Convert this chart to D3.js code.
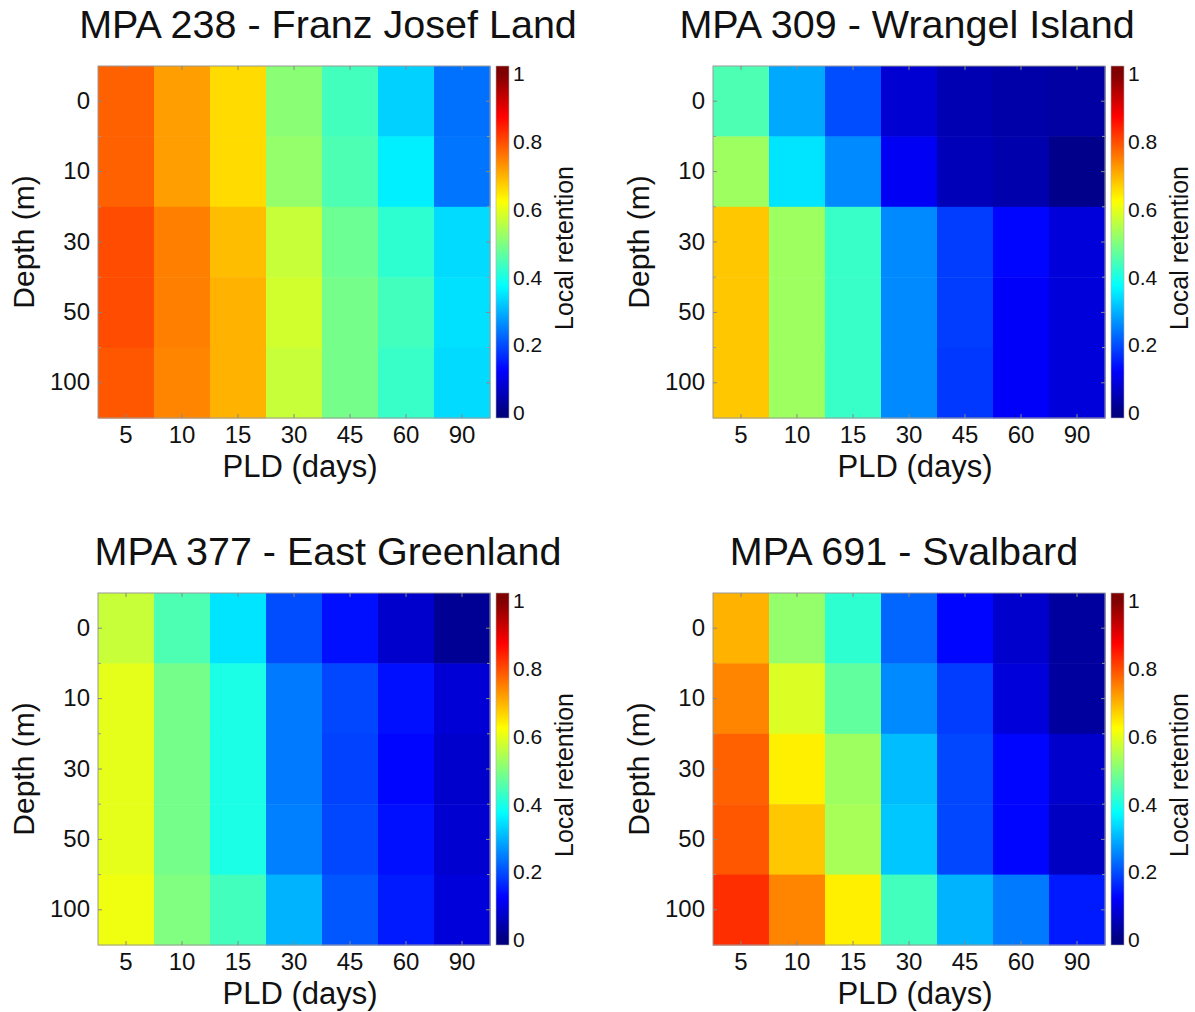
<!DOCTYPE html>
<html>
<head>
<meta charset="utf-8">
<script src="https://cdn.jsdelivr.net/npm/d3@7"></script>
<style>
  body { margin: 0; background: #fff; }
  text { font-family: "Liberation Sans", Arial, Helvetica, sans-serif; fill: #111; }
</style>
</head>
<body>
<div id="chart"></div>
<script>
// --- Data ---
const pld = ["5", "10", "15", "30", "45", "60", "90"];
const depth = ["0", "10", "30", "50", "100"];
const cbTicks = [0, 0.2, 0.4, 0.6, 0.8, 1];

const titles = [
  "MPA 238 - Franz Josef Land",
  "MPA 309 - Wrangel Island",
  "MPA 377 - East Greenland",
  "MPA 691 - Svalbard"
];

// local retention, rows = depth, cols = PLD
const franzJosef = [
  [0.78, 0.72, 0.66, 0.51, 0.44, 0.33, 0.235],
  [0.78, 0.72, 0.66, 0.52, 0.45, 0.36, 0.24],
  [0.80, 0.75, 0.69, 0.57, 0.48, 0.42, 0.34],
  [0.80, 0.75, 0.70, 0.58, 0.49, 0.44, 0.345],
  [0.79, 0.745, 0.70, 0.57, 0.49, 0.43, 0.34]
];
const wrangel = [
  [0.45, 0.29, 0.20, 0.082, 0.05, 0.04, 0.035],
  [0.53, 0.35, 0.26, 0.115, 0.055, 0.045, 0.01],
  [0.68, 0.53, 0.43, 0.26, 0.185, 0.13, 0.09],
  [0.68, 0.53, 0.43, 0.26, 0.185, 0.12, 0.09],
  [0.68, 0.53, 0.43, 0.26, 0.18, 0.12, 0.09]
];
const eastGreenland = [
  [0.57, 0.45, 0.35, 0.20, 0.14, 0.075, 0.02],
  [0.60, 0.49, 0.40, 0.245, 0.195, 0.14, 0.085],
  [0.60, 0.49, 0.40, 0.245, 0.19, 0.13, 0.075],
  [0.60, 0.49, 0.40, 0.25, 0.195, 0.14, 0.08],
  [0.61, 0.50, 0.44, 0.30, 0.21, 0.15, 0.09]
];
const svalbard = [
  [0.70, 0.52, 0.42, 0.225, 0.13, 0.075, 0.03],
  [0.745, 0.59, 0.47, 0.26, 0.185, 0.09, 0.03],
  [0.78, 0.64, 0.53, 0.31, 0.195, 0.13, 0.075],
  [0.79, 0.68, 0.54, 0.32, 0.195, 0.13, 0.065],
  [0.83, 0.745, 0.64, 0.44, 0.30, 0.245, 0.15]
];

const panelData = [franzJosef, wrangel, eastGreenland, svalbard];

// --- Layout ---
const W = 1195, H = 1012;
const plotW = 392, plotH = 352;
const layout = [
  { x0: 98,  y0: 66,  titleX: 328 },
  { x0: 713, y0: 66,  titleX: 907 },
  { x0: 98,  y0: 593, titleX: 328 },
  { x0: 713, y0: 593, titleX: 904 }
];

// MATLAB jet colormap
function jet(v) {
  const t = Math.max(0, Math.min(1, v));
  const c = x => Math.max(0, Math.min(1, x)) * 255;
  return d3.rgb(c(1.5 - Math.abs(4 * t - 3)), c(1.5 - Math.abs(4 * t - 2)), c(1.5 - Math.abs(4 * t - 1)));
}

const svg = d3.select("#chart").append("svg")
  .attr("width", W)
  .attr("height", H)
  .style("background", "#fff");

const x = d3.scaleBand().domain(pld).range([0, plotW]);
const y = d3.scaleBand().domain(depth).range([0, plotH]);
// colorbar scale: labels sit a bit inside the bar ends
const cb = d3.scaleLinear().domain([0, 1]).range([347, 8]);

const defs = svg.append("defs");
const grad = defs.append("linearGradient")
  .attr("id", "jetGrad")
  .attr("x1", 0).attr("x2", 0).attr("y1", 0).attr("y2", 1);
d3.range(0, 1.0001, 0.01).forEach(f => {
  grad.append("stop")
    .attr("offset", f)
    .attr("stop-color", jet(cb.invert(f * plotH)));
});

function styleAxis(g, size) {
  g.select(".domain").remove();
  g.selectAll(".tick line").attr("stroke", "#888").attr("stroke-width", 1);
  g.selectAll("text")
    .style("font-family", "'Liberation Sans', Arial, sans-serif")
    .attr("font-size", size)
    .attr("fill", "#111");
}

layout.forEach((p, i) => {
  const values = panelData[i];
  const g = svg.append("g").attr("transform", `translate(${p.x0},${p.y0})`);

  // cells
  values.forEach((row, r) => {
    g.selectAll(null)
      .data(row)
      .enter().append("rect")
      .attr("x", (d, c) => x(pld[c]))
      .attr("y", y(depth[r]))
      .attr("width", x.bandwidth() + 0.5)
      .attr("height", y.bandwidth() + 0.5)
      .attr("fill", d => jet(d));
  });

  // box
  g.append("rect")
    .attr("width", plotW).attr("height", plotH)
    .attr("fill", "none").attr("stroke", "#9a9a9a").attr("stroke-width", 1);

  // axes (ticks point inward)
  g.append("g")
    .attr("transform", `translate(0,${plotH})`)
    .call(d3.axisBottom(x).tickSizeInner(-4).tickSizeOuter(0).tickPadding(8))
    .call(a => styleAxis(a, 24));
  g.append("g")
    .call(d3.axisTop(x).tickSizeInner(-4).tickSizeOuter(0).tickFormat(""))
    .call(a => styleAxis(a, 24));
  g.append("g")
    .call(d3.axisLeft(y).tickSizeInner(-4).tickSizeOuter(0).tickPadding(8))
    .call(a => styleAxis(a, 24));
  g.append("g")
    .attr("transform", `translate(${plotW},0)`)
    .call(d3.axisRight(y).tickSizeInner(-4).tickSizeOuter(0).tickFormat(""))
    .call(a => styleAxis(a, 24));

  // minor ticks at row boundaries
  const bounds = depth.slice(1).map(d => y(d));
  g.selectAll(null).data(bounds).enter().append("line")
    .attr("x1", 0).attr("x2", 3).attr("y1", d => d).attr("y2", d => d)
    .attr("stroke", "#999");
  g.selectAll(null).data(bounds).enter().append("line")
    .attr("x1", plotW - 3).attr("x2", plotW).attr("y1", d => d).attr("y2", d => d)
    .attr("stroke", "#999");

  // axis labels
  g.append("text")
    .attr("x", plotW / 2 + 6)
    .attr("y", plotH + 59)
    .attr("text-anchor", "middle")
    .attr("font-size", 31)
    .text("PLD (days)");
  g.append("text")
    .attr("transform", `translate(-64,${plotH / 2}) rotate(-90)`)
    .attr("text-anchor", "middle")
    .attr("font-size", 30)
    .text("Depth (m)");

  // title
  svg.append("text")
    .attr("x", p.titleX)
    .attr("y", p.y0 - 28)
    .attr("text-anchor", "middle")
    .attr("font-size", 39.5)
    .text(titles[i]);

  // colorbar
  const cbg = g.append("g").attr("transform", `translate(${plotW + 6},0)`);
  cbg.append("rect")
    .attr("width", 13).attr("height", plotH)
    .attr("fill", "url(#jetGrad)")
    .attr("stroke", "#aaa").attr("stroke-width", 0.6);
  cbg.append("g")
    .attr("transform", "translate(13,0)")
    .call(d3.axisRight(cb).tickValues(cbTicks).tickSize(0).tickPadding(4).tickFormat(d => String(d)))
    .call(a => styleAxis(a, 21));
  cbg.append("text")
    .attr("transform", `translate(77,${plotH / 2 + 6}) rotate(-90)`)
    .attr("text-anchor", "middle")
    .attr("font-size", 25)
    .text("Local retention");
});
</script>
</body>
</html>
